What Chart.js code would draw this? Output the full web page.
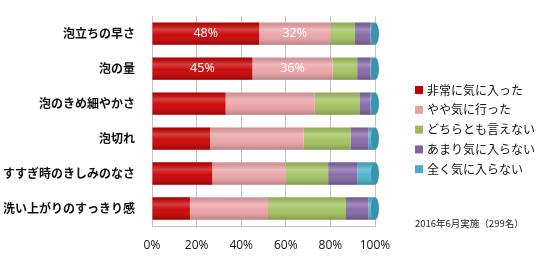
<!DOCTYPE html>
<html>
<head>
<meta charset="utf-8">
<script src="https://cdn.jsdelivr.net/npm/chart.js@4.4.1/dist/chart.umd.min.js"></script>
<style>
  html, body { margin: 0; padding: 0; background: #fff; }
  #wrap { width: 541px; height: 262px; }
</style>
</head>
<body>
<div id="wrap"><canvas id="surveyChart"></canvas></div>
<script>
const categories = ['泡立ちの早さ', '泡の量', '泡のきめ細やかさ', '泡切れ', 'すすぎ時のきしみのなさ', '洗い上がりのすっきり感'];
const seriesNames = ['非常に気に入った', 'やや気に行った', 'どちらとも言えない', 'あまり気に入らない', '全く気に入らない'];
const veryLiked = [48, 45, 33, 26, 27, 17];
const somewhatLiked = [32, 36, 40, 42, 33, 35];
const neutral = [11, 11, 20, 21, 19, 35];
const notReally = [7, 6, 5, 8, 13, 10];
const notAtAll = [2, 2, 2, 3, 8, 3];
const xTicks = [0, 20, 40, 60, 80, 100];
const labeledRows = [0, 1];
const labeledSeries = [0, 1];
const note = '2016年6月実施（299名）';

const colors = ['#C80000', '#EBA3A6', '#A2C35F', '#8467A6', '#4CB2CD'];
const legendColors = ['#C00000', '#E6A1A1', '#9BBB59', '#8064A2', '#4BACC6'];
const jpFont = '"Noto Sans CJK JP", "Noto Sans", sans-serif';

// cylinder shading, value labels, legend and survey note
const decorPlugin = {
    id: 'decor',
    afterDatasetsDraw(chart) {
        const ctx = chart.ctx;
        chart.data.datasets.forEach((ds, di) => {
            const meta = chart.getDatasetMeta(di);
            meta.data.forEach((bar, i) => {
                const left = Math.min(bar.base, bar.x);
                const w = Math.abs(bar.x - bar.base);
                const top = bar.y - bar.height / 2;
                const g = ctx.createLinearGradient(0, top, 0, top + bar.height);
                g.addColorStop(0, 'rgba(0,0,0,0.10)');
                g.addColorStop(0.3, 'rgba(255,255,255,0.25)');
                g.addColorStop(0.55, 'rgba(255,255,255,0.05)');
                g.addColorStop(1, 'rgba(0,0,0,0.22)');
                ctx.save();
                ctx.fillStyle = g;
                ctx.fillRect(left, top, w, bar.height);
                ctx.restore();
                if (di === chart.data.datasets.length - 1) {
                    ctx.save();
                    ctx.beginPath();
                    ctx.ellipse(bar.x, bar.y, 4, bar.height / 2, 0, 0, Math.PI * 2);
                    ctx.fillStyle = '#3A93AE';
                    ctx.fill();
                    ctx.restore();
                }
            });
        });
        ctx.save();
        ctx.fillStyle = '#fff';
        ctx.font = '12.5px "Open Sans", sans-serif';
        ctx.textAlign = 'center';
        ctx.textBaseline = 'middle';
        labeledSeries.forEach(di => {
            const meta = chart.getDatasetMeta(di);
            labeledRows.forEach(i => {
                const bar = meta.data[i];
                const v = chart.data.datasets[di].data[i];
                ctx.fillText(v + '%', (bar.x + bar.base) / 2, bar.y);
            });
        });
        // legend
        ctx.textAlign = 'left';
        ctx.font = '12px ' + jpFont;
        seriesNames.forEach((name, k) => {
            const y = 90 + k * 19.8;
            ctx.fillStyle = legendColors[k];
            ctx.fillRect(415, y - 4, 8, 8);
            ctx.fillStyle = '#111';
            ctx.fillText(name, 427, y);
        });
        ctx.fillStyle = '#222';
        ctx.font = '9.5px ' + jpFont;
        ctx.fillText(note, 415, 223);
        ctx.restore();
    }
};

const seriesData = [veryLiked, somewhatLiked, neutral, notReally, notAtAll];

new Chart(document.getElementById('surveyChart').getContext('2d'), {
    type: 'bar',
    data: {
        labels: categories,
        datasets: seriesNames.map((name, k) => ({
            label: name,
            data: seriesData[k],
            backgroundColor: colors[k],
            borderWidth: 0,
            barPercentage: 0.64,
            categoryPercentage: 1
        }))
    },
    options: {
        indexAxis: 'y',
        responsive: true,
        maintainAspectRatio: false,
        animation: false,
        layout: { padding: { top: 15, bottom: 8, left: 4, right: 166 } },
        plugins: {
            legend: { display: false },
            tooltip: { enabled: false }
        },
        scales: {
            x: {
                stacked: true,
                min: 0,
                max: 100,
                afterBuildTicks: axis => { axis.ticks = xTicks.map(v => ({ value: v })); },
                afterFit: scale => { scale.height = 28; },
                ticks: {
                    callback: v => v + '%',
                    color: '#111',
                    padding: 12,
                    maxRotation: 0,
                    font: { family: '"Open Sans", sans-serif', size: 12 }
                },
                grid: { color: '#c4c4c4', drawTicks: false },
                border: { color: '#c4c4c4' }
            },
            y: {
                stacked: true,
                afterFit: scale => { scale.width = 148; },
                ticks: {
                    color: '#111',
                    padding: 9,
                    font: { family: jpFont, size: 12, weight: 'bold' }
                },
                grid: { display: false },
                border: { color: '#c4c4c4' }
            }
        }
    },
    plugins: [decorPlugin]
});
</script>
</body>
</html>
